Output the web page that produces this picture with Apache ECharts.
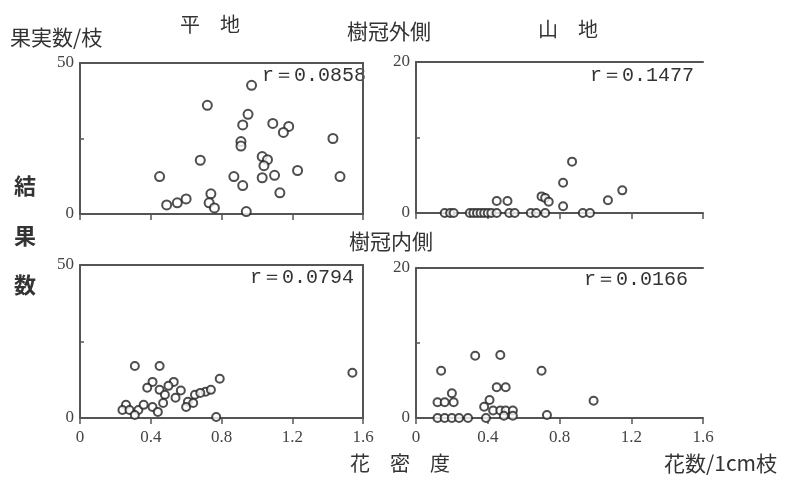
<!DOCTYPE html>
<html><head><meta charset="utf-8">
<script src="https://cdn.jsdelivr.net/npm/echarts@6/dist/echarts.min.js"></script>
<style>html,body{margin:0;padding:0;background:#fff}#c{width:787px;height:483px}</style>
</head><body><div id="c"></div>
<script>
// Panel titles / labels
const rowTitles = ['樹冠外側', '樹冠内側'];
const colTitles = ['平　地', '山　地'];
const rValues = ['r＝0.0858', 'r＝0.1477', 'r＝0.0794', 'r＝0.0166'];
const xTicks = [0, 0.4, 0.8, 1.2, 1.6];
const yMaxLeft = 50, yMaxRight = 20;

// 平地・樹冠外側
const flatOuterX = [0.97,0.72,0.95,0.92,1.09,1.18,1.15,1.43,0.91,0.91,0.68,1.03,1.06,1.04,0.45,0.87,0.92,1.03,1.10,1.23,1.47,1.13,0.49,0.55,0.60,0.74,0.73,0.76,0.94];
const flatOuterY = [42.6,36,33,29.5,30,29,27,25,24,22.5,17.8,19,18,16,12.4,12.4,9.4,12,12.8,14.4,12.4,7,3,3.7,5,6.7,3.7,2,0.8];
// 山地・樹冠外側
const hillOuterX = [0.87,0.82,0.45,0.51,0.70,0.72,0.74,0.82,1.07,1.15,0.16,0.19,0.21,0.30,0.32,0.34,0.36,0.38,0.40,0.42,0.45,0.52,0.55,0.64,0.67,0.72,0.93,0.97];
const hillOuterY = [6.8,4,1.6,1.6,2.2,2.0,1.5,0.9,1.7,3,0,0,0,0,0,0,0,0,0,0,0,0,0,0,0,0,0,0];
// 平地・樹冠内側
const flatInnerX = [0.31,0.45,1.54,0.79,0.41,0.53,0.38,0.45,0.48,0.54,0.61,0.65,0.71,0.74,0.68,0.26,0.24,0.28,0.33,0.36,0.41,0.44,0.47,0.60,0.64,0.77,0.31,0.50,0.57];
const flatInnerY = [17,17,14.8,12.8,11.8,11.8,9.9,9.2,7.6,6.6,5.3,7.6,8.6,9.2,8.2,4.3,2.6,2.6,2.6,4.3,3.6,2,4.9,3.6,4.9,0.3,1,10.5,9];
// 山地・樹冠内側
const hillInnerX = [0.33,0.47,0.14,0.70,0.45,0.50,0.99,0.20,0.12,0.16,0.21,0.41,0.38,0.73,0.12,0.16,0.20,0.24,0.29,0.39,0.43,0.47,0.50,0.54,0.54,0.49];
const hillInnerY = [8.3,8.4,6.3,6.3,4.1,4.1,2.3,3.3,2.1,2.1,2.1,2.4,1.5,0.4,0,0,0,0,0,0,1,1,1,1,0.3,0.3];

const zip = (xs, ys) => xs.map((x, i) => [x, ys[i]]);
const panels = [
  {data: zip(flatOuterX, flatOuterY), ymax: yMaxLeft, size: 9},
  {data: zip(hillOuterX, hillOuterY), ymax: yMaxRight, size: 8},
  {data: zip(flatInnerX, flatInnerY), ymax: yMaxLeft, size: 8},
  {data: zip(hillInnerX, hillInnerY), ymax: yMaxRight, size: 8}
];
const grids = [
  {left: 80, top: 63, width: 283, height: 151},
  {left: 416, top: 62, width: 287, height: 151},
  {left: 80, top: 265, width: 283, height: 153},
  {left: 416, top: 268, width: 287, height: 150}
];
const axisCol = '#555';
const tickFont = {fontFamily: 'Liberation Serif', fontSize: 17, color: '#444'};
const xAxis = [], yAxis = [], series = [];
panels.forEach((p, i) => {
  const bottomRow = i >= 2;
  xAxis.push({gridIndex: i, type: 'value', min: 0, max: 1.6, interval: 0.4,
    axisLine: {show: true, onZero: false, lineStyle: {color: axisCol, width: 2}},
    axisTick: {show: true, inside: false, length: 6, lineStyle: {color: axisCol, width: 1.5}},
    axisLabel: Object.assign({show: bottomRow, margin: 11,
      formatter: v => (xTicks.indexOf(Math.round(v*10)/10) >= 0 ? (v === 0 ? '0' : v.toFixed(1)) : '')}, tickFont),
    splitLine: {show: false}});
  // top border line
  xAxis.push({gridIndex: i, type: 'value', position: 'top', min: 0, max: 1.6,
    axisLine: {show: true, onZero: false, lineStyle: {color: axisCol, width: 2}},
    axisTick: {show: false}, axisLabel: {show: false}, splitLine: {show: false}});
  yAxis.push({gridIndex: i, type: 'value', min: 0, max: p.ymax, interval: p.ymax / 2,
    axisLine: {show: true, onZero: false, lineStyle: {color: axisCol, width: 2}},
    axisTick: {show: true, inside: true, length: 4, lineStyle: {color: axisCol, width: 1.5}},
    axisLabel: Object.assign({margin: 6, formatter: v => (v === 0 || v === p.ymax) ? String(v) : ''}, tickFont),
    splitLine: {show: false}});
  if (i % 2 === 0) {
    yAxis.push({gridIndex: i, type: 'value', position: 'right', min: 0, max: p.ymax,
      axisLine: {show: true, onZero: false, lineStyle: {color: axisCol, width: 2}},
      axisTick: {show: false}, axisLabel: {show: false}, splitLine: {show: false}});
  }
});
let yIdx = 0;
const yMain = [];
panels.forEach((p, i) => { yMain.push(yIdx); yIdx += (i % 2 === 0) ? 2 : 1; });
panels.forEach((p, i) => {
  series.push({type: 'scatter', xAxisIndex: i * 2, yAxisIndex: yMain[i], data: p.data,
    symbol: 'emptyCircle', symbolSize: p.size, clip: false,
    itemStyle: {color: '#222', borderColor: '#222', borderWidth: 1.6}, silent: true});
});

const txt = (left, top, text, font) => ({type: 'text', left, top,
  style: {text, fill: '#333', font: font + ' "Noto Sans CJK JP"'}});
const rPos = [[262, 66], [590, 66], [250, 268], [584, 270]];
const graphic = [
  txt(10, 27, '果実数/枝', '21px'),
  txt(180, 14, colTitles[0], '20px'),
  txt(538, 19, colTitles[1], '20px'),
  txt(347, 21, rowTitles[0], '21px'),
  txt(349, 231, rowTitles[1], '21px'),
  txt(14, 175, '結', 'bold 22px'),
  txt(14, 225, '果', 'bold 22px'),
  txt(14, 274, '数', 'bold 22px'),
  txt(350, 453, '花　密　度', '20px'),
  txt(664, 453, '花数/1cm枝', '21px')
];
rValues.forEach((r, i) => graphic.push({type: 'text', left: rPos[i][0], top: rPos[i][1],
  style: {text: r, fill: '#333', font: '20px "Liberation Mono"'}}));

const chart = echarts.init(document.getElementById('c'), null, {renderer: 'canvas'});
chart.setOption({animation: false, backgroundColor: '#fff', grid: grids, xAxis, yAxis, series, graphic});
</script></body></html>
